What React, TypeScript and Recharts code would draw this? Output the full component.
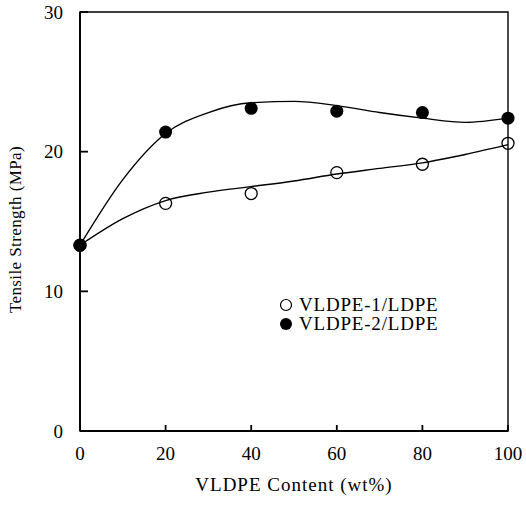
import {
  ComposedChart,
  Line,
  Scatter,
  XAxis,
  YAxis,
  ReferenceArea,
  Legend,
  Label
} from 'recharts';

// measured points (wt% VLDPE -> MPa)
const contents = [0, 20, 40, 60, 80, 100];
const vldpe1 = [13.3, 16.3, 17.0, 18.5, 19.1, 20.6];
const vldpe2 = [13.3, 21.4, 23.1, 22.9, 22.8, 22.4];

// fitted curves
const curveX = [0, 10, 20, 30, 40, 50, 60, 70, 80, 90, 100];
const curve1 = [13.3, 15.2, 16.5, 17.1, 17.5, 17.9, 18.4, 18.8, 19.2, 19.8, 20.5];
const curve2 = [13.3, 18.0, 21.3, 22.8, 23.5, 23.6, 23.3, 22.8, 22.4, 22.1, 22.4];

const seriesNames = ['VLDPE-1/LDPE', 'VLDPE-2/LDPE'];
const xTicks = [0, 20, 40, 60, 80, 100];
const yTicks = [0, 10, 20, 30];

const FONT = '"Liberation Serif", "DejaVu Serif", serif';

const curveData = curveX.map((x, i) => ({ x, c1: curve1[i], c2: curve2[i] }));
const points1 = contents.map((x, i) => ({ x, y: vldpe1[i] }));
const points2 = contents.map((x, i) => ({ x, y: vldpe2[i] }));

const OpenDot = (props: any) => (
  <circle cx={props.cx} cy={props.cy} r={6} fill="none" stroke="#000" strokeWidth={1.3} />
);
const FilledDot = (props: any) => (
  <circle cx={props.cx} cy={props.cy} r={6.5} fill="#000" />
);

const LegendBox = () => (
  <div style={{ fontFamily: FONT, fontSize: 19, letterSpacing: 0.8, lineHeight: '19px' }}>
    {seriesNames.map((name, i) => (
      <div key={name} style={{ display: 'flex', alignItems: 'center', height: 19 }}>
        <svg width={14} height={14} style={{ marginRight: 6 }}>
          {i === 0 ? (
            <circle cx={7} cy={7} r={5.5} fill="none" stroke="#000" strokeWidth={1.2} />
          ) : (
            <circle cx={7} cy={7} r={6} fill="#000" />
          )}
        </svg>
        <span>{name}</span>
      </div>
    ))}
  </div>
);

const YTitle = (props: any) => {
  const vb = props.viewBox || {};
  const x = vb.x + 5;
  const y = vb.y + vb.height / 2 + 8;
  return (
    <text
      x={x}
      y={y}
      transform={`rotate(-90, ${x}, ${y})`}
      textAnchor="middle"
      dominantBaseline="central"
      fontFamily={FONT}
      fontSize={17}
      letterSpacing={0.4}
      fill="#000"
    >
      Tensile Strength (MPa)
    </text>
  );
};

export default function App() {
  return (
    <div style={{ position: 'absolute', left: 0, top: 0, background: '#fff' }}>
      <ComposedChart
        width={526}
        height={506}
        data={curveData}
        margin={{ top: 12, right: 18, left: 10, bottom: 15 }}
      >
        <XAxis
          dataKey="x"
          type="number"
          domain={[0, 100]}
          ticks={xTicks}
          interval={0}
          tickSize={-6}
          tickMargin={22}
          height={60}
          stroke="#000"
          strokeWidth={1.8}
          tick={{ fill: '#000', fontFamily: FONT, fontSize: 19 }}
        >
          <Label
            value="VLDPE Content (wt%)"
            position="insideBottom"
            offset={0}
            style={{ fontFamily: FONT, fontSize: 19, letterSpacing: 1, fill: '#000' }}
          />
        </XAxis>
        <YAxis
          type="number"
          domain={[0, 30]}
          ticks={yTicks}
          interval={0}
          tickSize={-8}
          tickMargin={25}
          width={70}
          stroke="#000"
          strokeWidth={1.8}
          tick={{ fill: '#000', fontFamily: FONT, fontSize: 19 }}
        >
          <Label content={<YTitle />} position="insideLeft" />
        </YAxis>
        <ReferenceArea x1={0} x2={100} y1={0} y2={30} fill="none" stroke="#000" strokeWidth={1.4} />
        <Line
          type="monotone"
          dataKey="c1"
          stroke="#000"
          strokeWidth={1.4}
          dot={false}
          isAnimationActive={false}
          legendType="none"
        />
        <Line
          type="monotone"
          dataKey="c2"
          stroke="#000"
          strokeWidth={1.4}
          dot={false}
          isAnimationActive={false}
          legendType="none"
        />
        <Scatter
          name={seriesNames[0]}
          data={points1}
          dataKey="y"
          shape={<OpenDot />}
          isAnimationActive={false}
        />
        <Scatter
          name={seriesNames[1]}
          data={points2}
          dataKey="y"
          shape={<FilledDot />}
          isAnimationActive={false}
        />
        <Legend
          layout="vertical"
          align="center"
          verticalAlign="middle"
          content={<LegendBox />}
          wrapperStyle={{ position: 'absolute', left: 279, top: 295, width: 'auto' }}
        />
      </ComposedChart>
    </div>
  );
}
